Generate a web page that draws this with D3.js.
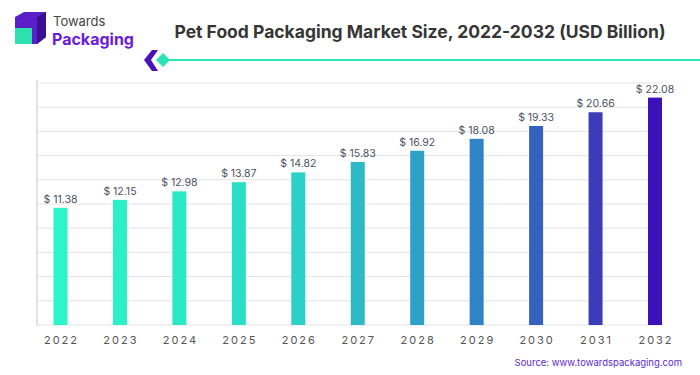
<!DOCTYPE html>
<html>
<head>
<meta charset="utf-8">
<script src="https://cdn.jsdelivr.net/npm/d3@7"></script>
<style>
  body { margin: 0; background: #fff; }
  svg { display: block; font-family: Inter, "Open Sans", sans-serif; }
</style>
</head>
<body>
<svg id="chart" width="700" height="375"></svg>
<script>
// data
const years = ['2022', '2023', '2024', '2025', '2026', '2027', '2028', '2029', '2030', '2031', '2032']
const values = [11.38, 12.15, 12.98, 13.87, 14.82, 15.83, 16.92, 18.08, 19.33, 20.66, 22.08]
const barColors = ['#2cf5c9', '#2bf0c8', '#2ae9c7', '#2adfc6', '#2bd0c6', '#2db9c6', '#2ea1c6', '#3083c4', '#3561bf', '#3a3cb8', '#3b12b9']

const svg = d3.select('#chart')

// logo
const logo = svg.append('g')
logo.append('polygon')
  .attr('points', '15,17 24,12 46,12 46,37 37,44 15,44')
  .attr('fill', '#5a1fc8')
logo.append('polygon')
  .attr('points', '37,17 46,12 46,37 37,44')
  .attr('fill', '#3b0f92')
logo.append('rect')
  .attr('x', 15).attr('y', 28).attr('width', 17).attr('height', 16)
  .attr('fill', '#2de0b0')
svg.append('text')
  .attr('x', 53).attr('y', 26)
  .attr('font-size', 13).attr('fill', '#444')
  .text('Towards')
svg.append('text')
  .attr('x', 52).attr('y', 45)
  .attr('font-size', 16).attr('font-weight', 700).attr('fill', '#6a1bdb')
  .text('Packaging')

// title
svg.append('text')
  .attr('x', 420).attr('y', 38)
  .attr('text-anchor', 'middle')
  .attr('font-size', 17.5).attr('font-weight', 700).attr('fill', '#363636')
  .text('Pet Food Packaging Market Size, 2022-2032 (USD Billion)')

// divider
svg.append('line')
  .attr('x1', 166).attr('x2', 700).attr('y1', 60).attr('y2', 60)
  .attr('stroke', '#2de3b5').attr('stroke-width', 2)
svg.append('polygon')
  .attr('points', '152,50 158,50 151,60 158,71 152,71 144,60')
  .attr('fill', '#4a14b8')
svg.append('polygon')
  .attr('points', '163,53 170,60 163,67 156,60')
  .attr('fill', '#2de3b5')

// scales
const x = d3.scalePoint().domain(years).range([60.5, 655])
const y = d3.scaleLinear().domain([0, 23.5]).range([325, 83])
const barW = 14

// grid
svg.append('g')
  .selectAll('line')
  .data(d3.range(0, 11))
  .join('line')
  .attr('x1', 37).attr('x2', 662)
  .attr('y1', i => 325 - i * 24.2).attr('y2', i => 325 - i * 24.2)
  .attr('stroke', '#e3e3e3').attr('stroke-width', 1)

svg.append('line')
  .attr('x1', 37).attr('x2', 37).attr('y1', 80).attr('y2', 326)
  .attr('stroke', '#d8d8d8').attr('stroke-width', 1.5)

// bars
svg.append('g')
  .selectAll('rect')
  .data(values)
  .join('rect')
  .attr('x', (d, i) => x(years[i]) - barW / 2)
  .attr('y', d => y(d))
  .attr('width', barW)
  .attr('height', d => y(0) - y(d))
  .attr('fill', (d, i) => barColors[i])

// value labels
svg.append('g')
  .selectAll('text')
  .data(values)
  .join('text')
  .attr('x', (d, i) => x(years[i]))
  .attr('y', d => y(d) - 5)
  .attr('text-anchor', 'middle')
  .attr('font-size', 10.5).attr('fill', '#4b5263')
  .text(d => '$ ' + d.toFixed(2))

// x axis labels
svg.append('g')
  .selectAll('text')
  .data(years)
  .join('text')
  .attr('x', d => x(d) + 1)
  .attr('y', 344)
  .attr('text-anchor', 'middle')
  .attr('font-size', 11).attr('fill', '#555')
  .attr('letter-spacing', 2)
  .text(d => d)

// source
svg.append('text')
  .attr('x', 682).attr('y', 366)
  .attr('text-anchor', 'end')
  .attr('font-size', 9.5).attr('fill', '#5a2ad0')
  .text('Source: www.towardspackaging.com')
</script>
</body>
</html>
